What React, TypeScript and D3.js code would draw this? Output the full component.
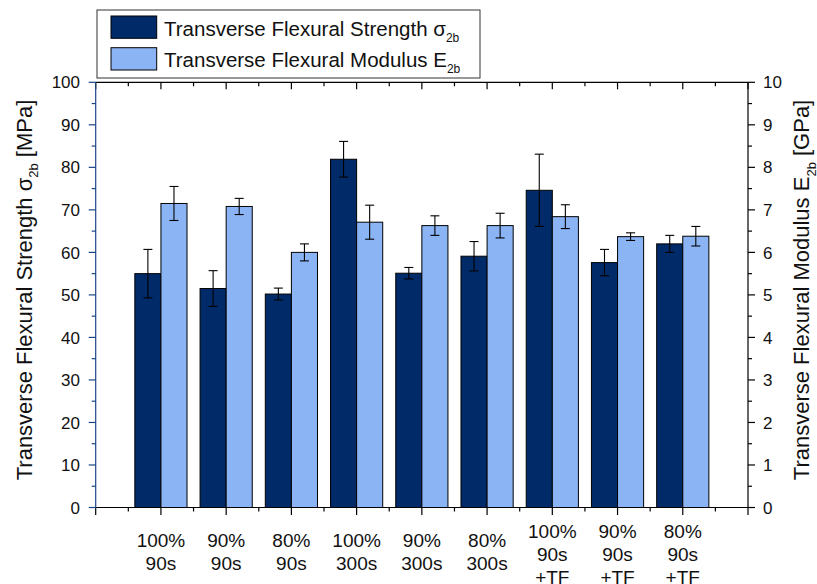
import React from "react";
import * as d3 from "d3";

// Sample groups (each label is drawn as stacked lines)
const categories: string[][] = [
  ["100%", "90s"],
  ["90%", "90s"],
  ["80%", "90s"],
  ["100%", "300s"],
  ["90%", "300s"],
  ["80%", "300s"],
  ["100%", "90s", "+TF"],
  ["90%", "90s", "+TF"],
  ["80%", "90s", "+TF"],
];

// Transverse flexural strength [MPa] and its standard deviation
const strength = [55.0, 51.5, 50.2, 81.9, 55.1, 59.1, 74.6, 57.6, 62.0];
const strengthErr = [5.7, 4.2, 1.4, 4.2, 1.35, 3.45, 8.5, 3.1, 2.0];

// Transverse flexural modulus [GPa] and its standard deviation
const modulus = [7.15, 7.08, 6.0, 6.71, 6.63, 6.63, 6.84, 6.37, 6.38];
const modulusErr = [0.4, 0.19, 0.2, 0.4, 0.23, 0.29, 0.28, 0.09, 0.23];

const leftTicks = [0, 10, 20, 30, 40, 50, 60, 70, 80, 90, 100];
const rightTicks = [0, 1, 2, 3, 4, 5, 6, 7, 8, 9, 10];

const W = 817;
const H = 584;
const plot = { left: 95.7, right: 748, top: 82.3, bottom: 507.5 };

const DARK = "#002a68";
const LIGHT = "#8ab4f4";
const AXIS_BLUE = "#1c4587";
const FONT = "'Liberation Sans', Arial, Helvetica, sans-serif";

export default function App() {
  const x = d3.scaleLinear().domain([0, 10]).range([plot.left, plot.right]);
  const yL = d3.scaleLinear().domain([0, 100]).range([plot.bottom, plot.top]);
  const yR = d3.scaleLinear().domain([0, 10]).range([plot.bottom, plot.top]);

  const step = x(1) - x(0);
  const barW = step * 0.4;
  const capW = 9;

  const majorX = d3.range(0, 11);
  const minorX = d3.range(0.5, 10, 1);
  const minorL = d3.range(5, 100, 10);
  const minorR = d3.range(0.5, 10, 1);

  const errorBar = (cx: number, yTop: number, yBot: number, key: string) => (
    <g key={key} stroke="#000" strokeWidth={1.1}>
      <line x1={cx} x2={cx} y1={yTop} y2={yBot} />
      <line x1={cx - capW / 2} x2={cx + capW / 2} y1={yTop} y2={yTop} />
      <line x1={cx - capW / 2} x2={cx + capW / 2} y1={yBot} y2={yBot} />
    </g>
  );

  const titleY = 290;

  return (
    <svg
      width={W}
      height={H}
      style={{ position: "absolute", left: 0, top: 0, background: "#fff" }}
      fontFamily={FONT}
    >
      {/* bars */}
      {categories.map((_, i) => {
        const cx = x(i + 1);
        return (
          <g key={`bars-${i}`}>
            <rect
              x={cx - barW}
              y={yL(strength[i])}
              width={barW}
              height={yL(0) - yL(strength[i])}
              fill={DARK}
              stroke="#000"
              strokeWidth={1}
            />
            <rect
              x={cx}
              y={yR(modulus[i])}
              width={barW}
              height={yR(0) - yR(modulus[i])}
              fill={LIGHT}
              stroke="#000"
              strokeWidth={1}
            />
          </g>
        );
      })}

      {/* error bars */}
      {categories.map((_, i) => {
        const cx = x(i + 1);
        return (
          <g key={`err-${i}`}>
            {errorBar(
              cx - barW / 2,
              yL(strength[i] + strengthErr[i]),
              yL(strength[i] - strengthErr[i]),
              "s"
            )}
            {errorBar(
              cx + barW / 2,
              yR(modulus[i] + modulusErr[i]),
              yR(modulus[i] - modulusErr[i]),
              "m"
            )}
          </g>
        );
      })}

      {/* top frame with inward ticks */}
      <g stroke="#000" strokeWidth={1.2}>
        <line x1={plot.left} x2={plot.right} y1={plot.top} y2={plot.top} />
        {majorX.map((v) => (
          <line key={`tM${v}`} x1={x(v)} x2={x(v)} y1={plot.top} y2={plot.top + 7} />
        ))}
        {minorX.map((v) => (
          <line key={`tm${v}`} x1={x(v)} x2={x(v)} y1={plot.top} y2={plot.top + 4} />
        ))}
      </g>

      {/* bottom axis */}
      <g stroke="#000" strokeWidth={1.2}>
        <line x1={plot.left} x2={plot.right} y1={plot.bottom} y2={plot.bottom} />
        {majorX.map((v) => (
          <line key={`bM${v}`} x1={x(v)} x2={x(v)} y1={plot.bottom} y2={plot.bottom + 7.5} />
        ))}
        {minorX.map((v) => (
          <line key={`bm${v}`} x1={x(v)} x2={x(v)} y1={plot.bottom} y2={plot.bottom + 4} />
        ))}
      </g>

      {/* category labels */}
      {categories.map((lines, i) => {
        const first = 546.7 - (lines.length - 2) * 9;
        return (
          <text
            key={`cat-${i}`}
            x={x(i + 1)}
            textAnchor="middle"
            fontSize={19}
            fill="#111"
          >
            {lines.map((ln, j) => (
              <tspan key={j} x={x(i + 1)} y={first + j * 23.2}>
                {ln}
              </tspan>
            ))}
          </text>
        );
      })}

      {/* left axis (strength) */}
      <g stroke={AXIS_BLUE} strokeWidth={1.2}>
        <line x1={plot.left} x2={plot.left} y1={plot.top} y2={plot.bottom} />
        {leftTicks.map((v) => (
          <line key={`lM${v}`} x1={plot.left - 7} x2={plot.left} y1={yL(v)} y2={yL(v)} />
        ))}
        {minorL.map((v) => (
          <line key={`lm${v}`} x1={plot.left - 4} x2={plot.left} y1={yL(v)} y2={yL(v)} />
        ))}
      </g>
      {leftTicks.map((v) => (
        <text
          key={`lt${v}`}
          x={80}
          y={yL(v)}
          dy="0.36em"
          textAnchor="end"
          fontSize={17}
          fill="#111"
        >
          {v}
        </text>
      ))}

      {/* right axis (modulus) */}
      <g stroke="#000" strokeWidth={1.2}>
        <line x1={plot.right} x2={plot.right} y1={plot.top} y2={plot.bottom} />
        {rightTicks.map((v) => (
          <line key={`rM${v}`} x1={plot.right} x2={plot.right + 7} y1={yR(v)} y2={yR(v)} />
        ))}
        {minorR.map((v) => (
          <line key={`rm${v}`} x1={plot.right} x2={plot.right + 4} y1={yR(v)} y2={yR(v)} />
        ))}
      </g>
      {rightTicks.map((v) => (
        <text
          key={`rt${v}`}
          x={763}
          y={yR(v)}
          dy="0.36em"
          textAnchor="start"
          fontSize={17}
          fill="#111"
        >
          {v}
        </text>
      ))}

      {/* axis titles */}
      <text
        transform={`translate(31.5, ${titleY}) rotate(-90)`}
        textAnchor="middle"
        fontSize={22}
        fill="#111"
      >
        Transverse Flexural Strength σ
        <tspan fontSize={13} dy={6.5}>2b</tspan>
        <tspan dy={-6.5}> [MPa]</tspan>
      </text>
      <text
        transform={`translate(809, ${titleY}) rotate(-90)`}
        textAnchor="middle"
        fontSize={22}
        fill="#111"
      >
        Transverse Flexural Modulus E
        <tspan fontSize={13} dy={6.5}>2b</tspan>
        <tspan dy={-6.5}> [GPa]</tspan>
      </text>

      {/* legend */}
      <g>
        <rect x={97} y={10} width={383} height={68} fill="#fff" stroke="#333" strokeWidth={1} />
        <rect x={111} y={16} width={45.7} height={22.3} fill={DARK} stroke="#000" strokeWidth={1} />
        <rect x={111} y={47.7} width={45.7} height={22.3} fill={LIGHT} stroke="#000" strokeWidth={1} />
        <text x={164} y={35.5} fontSize={20.5} fill="#111">
          Transverse Flexural Strength σ
          <tspan fontSize={12} dy={6}>2b</tspan>
        </text>
        <text x={164} y={67} fontSize={20.5} fill="#111">
          Transverse Flexural Modulus E
          <tspan fontSize={12} dy={6}>2b</tspan>
        </text>
      </g>
    </svg>
  );
}
